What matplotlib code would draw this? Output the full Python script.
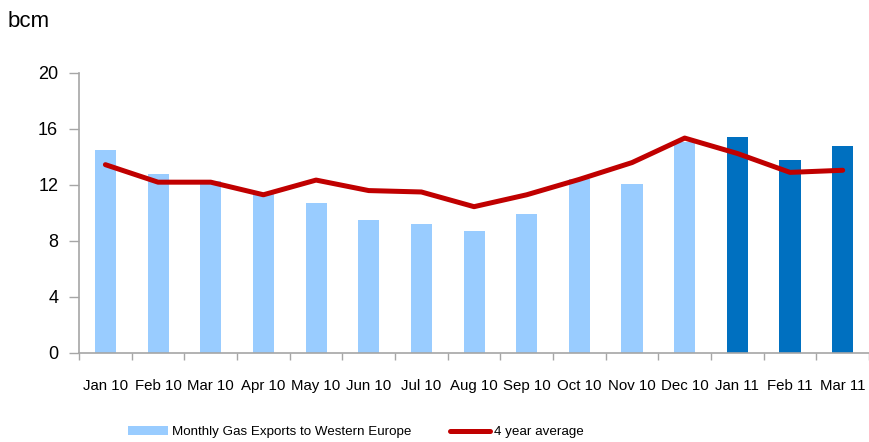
import matplotlib
matplotlib.use("Agg")
import matplotlib.pyplot as plt
from matplotlib.patches import Patch
from matplotlib.lines import Line2D
import numpy as np

months = ["Jan 10", "Feb 10", "Mar 10", "Apr 10", "May 10", "Jun 10", "Jul 10", "Aug 10",
          "Sep 10", "Oct 10", "Nov 10", "Dec 10", "Jan 11", "Feb 11", "Mar 11"]
exports = [14.5, 12.8, 12.3, 11.5, 10.7, 9.5, 9.2, 8.7, 9.9, 12.4, 12.1, 15.1, 15.4, 13.8, 14.8]
avg4y = [13.45, 12.2, 12.2, 11.3, 12.35, 11.6, 11.5, 10.45, 11.3, 12.4, 13.6, 15.35, 14.25, 12.9, 13.05]
is_2011 = [False] * 12 + [True] * 3
yticks = [0, 4, 8, 12, 16, 20]

LIGHT = "#99CCFF"
DARK = "#0070C0"
RED = "#C00000"
GREY = "#A6A6A6"

plt.rcParams['font.family'] = ['Liberation Sans', 'DejaVu Sans']

fig = plt.figure(figsize=(8.69, 4.42), dpi=100)
ax = fig.add_axes([0.091, 0.2014, 0.909, 0.6335])

x = np.arange(len(months))
colors = [DARK if f else LIGHT for f in is_2011]
ax.bar(x, exports, width=0.4, color=colors, edgecolor="none", zorder=2)
ax.plot(x, avg4y, color=RED, lw=3.6, solid_capstyle="round", solid_joinstyle="round", zorder=3)

ax.set_xlim(-0.5, len(months) - 0.5)
ax.set_ylim(0, 20)
ax.set_yticks(yticks)
ax.set_yticklabels([str(v) for v in yticks], fontsize=13)
ax.tick_params(axis='y', length=7, width=1, color=GREY, pad=8)

ax.set_xticks(x)
ax.set_xticklabels(months, fontsize=10.8)
ax.tick_params(axis='x', which='major', length=0, pad=19)
ax.set_xticks(np.arange(-0.5, len(months), 1.0), minor=True)
ax.tick_params(axis='x', which='minor', length=5, width=1, color=GREY)

for s in ["top", "right"]:
    ax.spines[s].set_visible(False)
for s in ["left", "bottom"]:
    ax.spines[s].set_color(GREY)
    ax.spines[s].set_linewidth(1.2)

fig.text(0.009, 0.94, "bcm", fontsize=16, va="baseline")

handles = [Patch(facecolor=LIGHT, edgecolor="none"),
           Line2D([0], [0], color=RED, lw=3.6, solid_capstyle="round")]
labels = ["Monthly Gas Exports to Western Europe", "4 year average"]
fig.legend(handles, labels, loc="center", bbox_to_anchor=(0.41, 0.022), ncol=2, frameon=False,
           fontsize=9.6, handlelength=3.0, handleheight=0.6, handletextpad=0.3, columnspacing=2.9)

fig.savefig("out.png", dpi=100)
